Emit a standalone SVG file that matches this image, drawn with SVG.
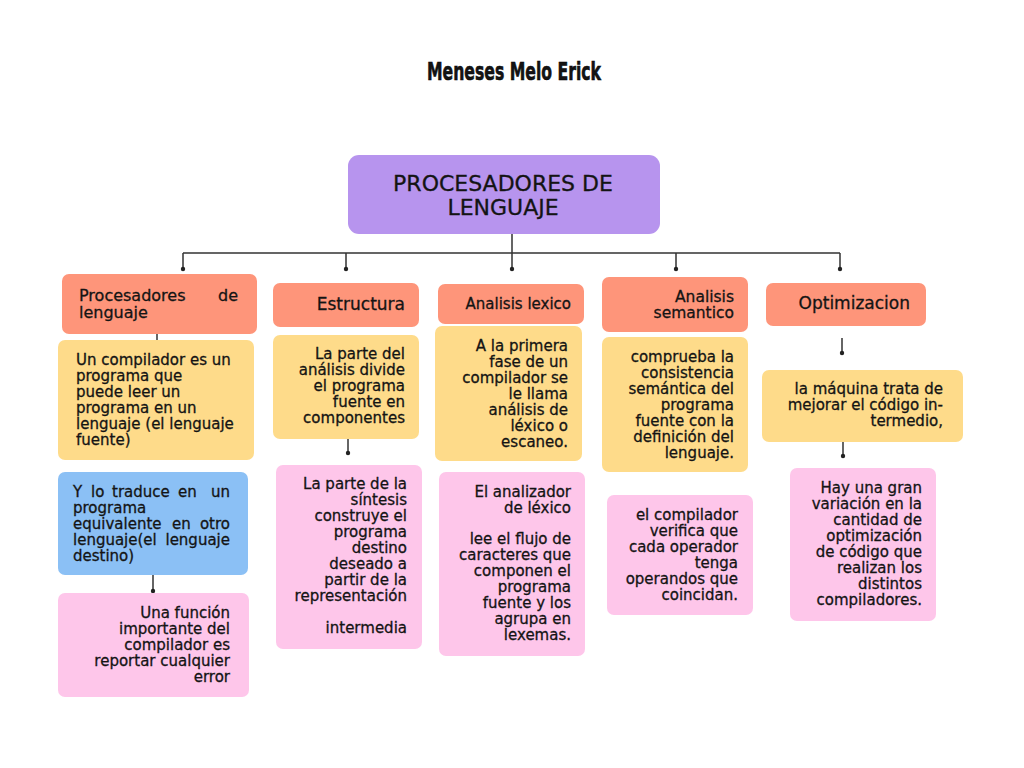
<svg xmlns="http://www.w3.org/2000/svg" width="1024" height="768" viewBox="0 0 1024 768">
<style>
.bg{fill:#ffffff}
.main{fill:#b794ee}
.hd{fill:#fe957a}
.yl{fill:#fedb8a}
.pk{fill:#fec6ea}
.bl{fill:#8bc0f5}
text{font-family:"DejaVu Sans","Noto Sans",sans-serif;fill:#141414;stroke:#141414;stroke-width:0.3px}
.t{font-size:15px}
.r{text-anchor:end}
.h{font-size:15.5px}
.ln{stroke:#333333;stroke-width:1.5;fill:none}
.dot{fill:#222222}
</style>
<rect class="bg" x="0" y="0" width="1024" height="768"/>
<text id="title" x="514" y="80" text-anchor="middle" font-family="'DejaVu Sans Condensed','DejaVu Sans',sans-serif" font-weight="bold" font-size="25" textLength="174" lengthAdjust="spacingAndGlyphs" fill="#000" style="stroke:#000;stroke-width:0.6px">Meneses Melo Erick</text>

<g id="connectors">
<path class="ln" d="M512 234V253M183 253H840M183 253V268M346 253V268M512 253V268M676 253V268M840 253V268"/>
<circle class="dot" cx="183" cy="269" r="2.2"/>
<circle class="dot" cx="346" cy="269" r="2.2"/>
<circle class="dot" cx="512" cy="269" r="2.2"/>
<circle class="dot" cx="676" cy="269" r="2.2"/>
<circle class="dot" cx="840" cy="269" r="2.2"/>
<path class="ln" d="M157 329V340"/>
<path class="ln" d="M153 575V590"/>
<circle class="dot" cx="153" cy="591" r="2.2"/>
<path class="ln" d="M348 439V452"/>
<circle class="dot" cx="348" cy="453" r="2.2"/>
<path class="ln" d="M842 338V352"/>
<circle class="dot" cx="842" cy="353" r="2.2"/>
<path class="ln" d="M843 441V455"/>
<circle class="dot" cx="843" cy="456" r="2.2"/>
</g>

<g id="root">
<rect class="main" x="348" y="155" width="312" height="79" rx="11"/>
<text x="503" y="191" text-anchor="middle" font-size="22">PROCESADORES DE</text>
<text x="503" y="215" text-anchor="middle" font-size="22">LENGUAJE</text>
</g>

<g id="h1">
<rect class="hd" x="62" y="274" width="195" height="60" rx="7"/>
<text font-size="16" x="79" y="301">Procesadores</text>
<text font-size="16" x="238" y="301" text-anchor="end">de</text>
<text font-size="16" x="79" y="318">lenguaje</text>
</g>
<g id="h2">
<rect class="hd" x="273" y="283" width="146" height="44" rx="7"/>
<text class="r" font-size="17" x="405" y="310">Estructura</text>
</g>
<g id="h3">
<rect class="hd" x="438" y="284" width="146" height="40" rx="7"/>
<text class="r" font-size="15" x="571" y="309">Analisis lexico</text>
</g>
<g id="h4">
<rect class="hd" x="602" y="277" width="146" height="55" rx="7"/>
<text class="r h" x="734" y="302">Analisis</text>
<text class="r h" x="734" y="318">semantico</text>
</g>
<g id="h5">
<rect class="hd" x="766" y="283" width="160" height="43" rx="7"/>
<text class="r" font-size="17" x="910" y="309">Optimizacion</text>
</g>

<g id="c1a">
<rect class="yl" x="58" y="340" width="196" height="120" rx="7"/>
<text class="t"><tspan x="76" y="365">Un compilador es un</tspan><tspan x="76" y="381">programa que</tspan><tspan x="76" y="397">puede leer un</tspan><tspan x="76" y="413">programa en un</tspan><tspan x="76" y="429">lenguaje (el lenguaje</tspan><tspan x="76" y="445">fuente)</tspan></text>
</g>
<g id="c1b">
<rect class="bl" x="58" y="472" width="190" height="103" rx="7"/>
<text class="t" y="497"><tspan x="73">Y</tspan><tspan x="91">lo</tspan><tspan x="112">traduce</tspan><tspan x="178">en</tspan></text>
<text class="t r" x="230" y="497">un</text>
<text class="t" x="73" y="513">programa</text>
<text class="t" y="529"><tspan x="73">equivalente</tspan><tspan x="172">en</tspan></text>
<text class="t r" x="230" y="529">otro</text>
<text class="t" x="73" y="545">lenguaje(el</text>
<text class="t r" x="230" y="545">lenguaje</text>
<text class="t" x="73" y="561">destino)</text>
</g>
<g id="c1c">
<rect class="pk" x="58" y="593" width="191" height="104" rx="7"/>
<text class="t r"><tspan x="230" y="618">Una función</tspan><tspan x="230" y="634">importante del</tspan><tspan x="230" y="650">compilador es</tspan><tspan x="230" y="666">reportar cualquier</tspan><tspan x="230" y="682">error</tspan></text>
</g>

<g id="c2a">
<rect class="yl" x="273" y="335" width="146" height="104" rx="7"/>
<text class="t r"><tspan x="405" y="359">La parte del</tspan><tspan x="405" y="375">análisis divide</tspan><tspan x="405" y="391">el programa</tspan><tspan x="405" y="407">fuente en</tspan><tspan x="405" y="423">componentes</tspan></text>
</g>
<g id="c2b">
<rect class="pk" x="276" y="465" width="146" height="184" rx="7"/>
<text class="t r"><tspan x="407" y="489">La parte de la</tspan><tspan x="407" y="505">síntesis</tspan><tspan x="407" y="521">construye el</tspan><tspan x="407" y="537">programa</tspan><tspan x="407" y="553">destino</tspan><tspan x="407" y="569">deseado a</tspan><tspan x="407" y="585">partir de la</tspan><tspan x="407" y="601">representación</tspan><tspan x="407" y="633">intermedia</tspan></text>
</g>

<g id="c3a">
<rect class="yl" x="435" y="326" width="147" height="135" rx="7"/>
<text class="t r"><tspan x="568" y="351">A la primera</tspan><tspan x="568" y="367">fase de un</tspan><tspan x="568" y="383">compilador se</tspan><tspan x="568" y="399">le llama</tspan><tspan x="568" y="415">análisis de</tspan><tspan x="568" y="431">léxico o</tspan><tspan x="568" y="447">escaneo.</tspan></text>
</g>
<g id="c3b">
<rect class="pk" x="439" y="472" width="146" height="184" rx="7"/>
<text class="t r"><tspan x="571" y="497">El analizador</tspan><tspan x="571" y="513">de léxico</tspan><tspan x="571" y="544">lee el flujo de</tspan><tspan x="571" y="560">caracteres que</tspan><tspan x="571" y="576">componen el</tspan><tspan x="571" y="592">programa</tspan><tspan x="571" y="608">fuente y los</tspan><tspan x="571" y="624">agrupa en</tspan><tspan x="571" y="640">lexemas.</tspan></text>
</g>

<g id="c4a">
<rect class="yl" x="602" y="337" width="146" height="135" rx="7"/>
<text class="t r"><tspan x="734" y="362">comprueba la</tspan><tspan x="734" y="378">consistencia</tspan><tspan x="734" y="394">semántica del</tspan><tspan x="734" y="410">programa</tspan><tspan x="734" y="426">fuente con la</tspan><tspan x="734" y="442">definición del</tspan><tspan x="734" y="458">lenguaje.</tspan></text>
</g>
<g id="c4b">
<rect class="pk" x="607" y="495" width="146" height="120" rx="7"/>
<text class="t r"><tspan x="738" y="520">el compilador</tspan><tspan x="738" y="536">verifica que</tspan><tspan x="738" y="552">cada operador</tspan><tspan x="738" y="568">tenga</tspan><tspan x="738" y="584">operandos que</tspan><tspan x="738" y="600">coincidan.</tspan></text>
</g>

<g id="c5a">
<rect class="yl" x="762" y="370" width="201" height="72" rx="7"/>
<text class="t r"><tspan x="943" y="394">la máquina trata de</tspan><tspan x="943" y="410">mejorar el código in-</tspan><tspan x="943" y="426">termedio,</tspan></text>
</g>
<g id="c5b">
<rect class="pk" x="790" y="468" width="146" height="153" rx="7"/>
<text class="t r"><tspan x="922" y="493">Hay una gran</tspan><tspan x="922" y="509">variación en la</tspan><tspan x="922" y="525">cantidad de</tspan><tspan x="922" y="541">optimización</tspan><tspan x="922" y="557">de código que</tspan><tspan x="922" y="573">realizan los</tspan><tspan x="922" y="589">distintos</tspan><tspan x="922" y="605">compiladores.</tspan></text>
</g>
</svg>
